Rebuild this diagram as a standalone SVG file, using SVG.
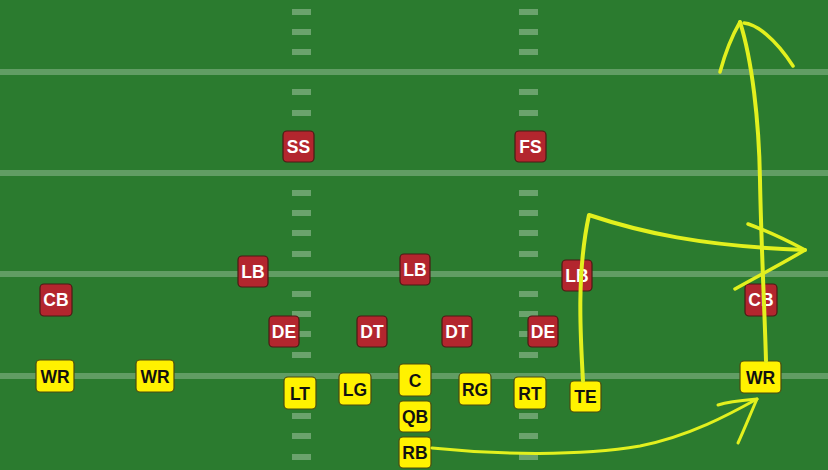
<svg xmlns="http://www.w3.org/2000/svg" width="828" height="470" viewBox="0 0 828 470">
<defs>
<style>
.yl{fill:#ffffff;fill-opacity:0.26}
.hm{fill:#ffffff;fill-opacity:0.3}
.def rect{fill:#b3262e;stroke:#4a1a14;stroke-width:1.2}
.def text{fill:#ffffff}
.off rect{fill:#fff200;stroke:#4a4a10;stroke-width:1.2}
.off text{fill:#111111}
text{font-family:"Liberation Sans",Arial,sans-serif;font-weight:bold;font-size:17.5px;text-anchor:middle;dominant-baseline:central}
.rt{fill:none;stroke:#e2f01e;stroke-linecap:round;stroke-linejoin:round}
</style>
</defs>
<rect x="0" y="0" width="828" height="470" fill="#2b7b2f"/>
<g id="field">
<rect class="yl" x="0" y="69" width="828" height="6"/>
<rect class="yl" x="0" y="170" width="828" height="6"/>
<rect class="yl" x="0" y="271" width="828" height="6"/>
<rect class="yl" x="0" y="373" width="828" height="6"/>
<g id="hash-left">
<rect class="hm" x="292" y="9" width="19" height="6"/>
<rect class="hm" x="292" y="29" width="19" height="6"/>
<rect class="hm" x="292" y="49" width="19" height="6"/>
<rect class="hm" x="292" y="89" width="19" height="6"/>
<rect class="hm" x="292" y="110" width="19" height="6"/>
<rect class="hm" x="292" y="190" width="19" height="6"/>
<rect class="hm" x="292" y="210" width="19" height="6"/>
<rect class="hm" x="292" y="230" width="19" height="6"/>
<rect class="hm" x="292" y="251" width="19" height="6"/>
<rect class="hm" x="292" y="291" width="19" height="6"/>
<rect class="hm" x="292" y="311" width="19" height="6"/>
<rect class="hm" x="292" y="331" width="19" height="6"/>
<rect class="hm" x="292" y="352" width="19" height="6"/>
<rect class="hm" x="292" y="413" width="19" height="6"/>
<rect class="hm" x="292" y="433" width="19" height="6"/>
<rect class="hm" x="292" y="454" width="19" height="6"/>
</g>
<g id="hash-right">
<rect class="hm" x="519" y="9" width="19" height="6"/>
<rect class="hm" x="519" y="29" width="19" height="6"/>
<rect class="hm" x="519" y="49" width="19" height="6"/>
<rect class="hm" x="519" y="89" width="19" height="6"/>
<rect class="hm" x="519" y="110" width="19" height="6"/>
<rect class="hm" x="519" y="190" width="19" height="6"/>
<rect class="hm" x="519" y="210" width="19" height="6"/>
<rect class="hm" x="519" y="230" width="19" height="6"/>
<rect class="hm" x="519" y="251" width="19" height="6"/>
<rect class="hm" x="519" y="291" width="19" height="6"/>
<rect class="hm" x="519" y="311" width="19" height="6"/>
<rect class="hm" x="519" y="331" width="19" height="6"/>
<rect class="hm" x="519" y="352" width="19" height="6"/>
<rect class="hm" x="519" y="413" width="19" height="6"/>
<rect class="hm" x="519" y="433" width="19" height="6"/>
<rect class="hm" x="519" y="454" width="19" height="6"/>
</g>
</g>
<g id="defense" class="def">
<g id="ss"><rect x="283" y="131" width="31" height="31" rx="4"/><text x="298.5" y="147">SS</text></g>
<g id="fs"><rect x="515" y="131" width="31" height="31" rx="4"/><text x="530.5" y="147">FS</text></g>
<g id="lb-left"><rect x="238" y="256" width="30" height="31" rx="4"/><text x="253" y="271.5">LB</text></g>
<g id="lb-mid"><rect x="400" y="254" width="30" height="31" rx="4"/><text x="415" y="270">LB</text></g>
<g id="lb-right"><rect x="562" y="260" width="30" height="31" rx="4"/><text x="577" y="275.5">LB</text></g>
<g id="cb-left"><rect x="40" y="284" width="32" height="32" rx="4"/><text x="56" y="300">CB</text></g>
<g id="cb-right"><rect x="745" y="284" width="32" height="32" rx="4"/><text x="761" y="300">CB</text></g>
<g id="de-left"><rect x="269" y="316" width="30" height="31" rx="4"/><text x="284" y="331.5">DE</text></g>
<g id="dt-left"><rect x="357" y="316" width="30" height="31" rx="4"/><text x="372" y="331.5">DT</text></g>
<g id="dt-right"><rect x="442" y="316" width="30" height="31" rx="4"/><text x="457" y="331.5">DT</text></g>
<g id="de-right"><rect x="528" y="316" width="30" height="31" rx="4"/><text x="543" y="331.5">DE</text></g>
</g>
<g id="offense" class="off">
<g id="wr-left"><rect x="36" y="360" width="38" height="32" rx="4"/><text x="55" y="376.5">WR</text></g>
<g id="wr-slot"><rect x="136" y="360" width="38" height="32" rx="4"/><text x="155" y="376.5">WR</text></g>
<g id="lt"><rect x="284" y="377" width="32" height="32" rx="4"/><text x="300" y="393.5">LT</text></g>
<g id="lg"><rect x="339" y="373" width="32" height="32" rx="4"/><text x="355" y="389.5">LG</text></g>
<g id="c"><rect x="399" y="364" width="32" height="32" rx="4"/><text x="415" y="380.5">C</text></g>
<g id="qb"><rect x="399" y="401" width="32" height="31" rx="4"/><text x="415" y="417">QB</text></g>
<g id="rb"><rect x="399" y="437" width="32" height="31" rx="4"/><text x="415" y="453">RB</text></g>
<g id="rg"><rect x="459" y="373" width="32" height="32" rx="4"/><text x="475" y="389.5">RG</text></g>
<g id="rt"><rect x="514" y="377" width="32" height="32" rx="4"/><text x="530" y="393.5">RT</text></g>
<g id="te"><rect x="570" y="381" width="31" height="31" rx="4"/><text x="585.5" y="397">TE</text></g>
<g id="wr-right"><rect x="740" y="361" width="41" height="32" rx="4"/><text x="760.5" y="377.5">WR</text></g>
</g>
<g id="connectors">
<g id="route-wr">
<path class="rt" stroke-width="4" d="M766 361 C765 320 761 240 760 180 C759 120 752 60 740 22"/>
<path class="rt" stroke-width="3.5" d="M720 72 C726 50 733 34 740 22"/>
<path class="rt" stroke-width="3.5" d="M744 23 C756 24 775 38 793 66"/>
</g>
<g id="route-te">
<path class="rt" stroke-width="4" d="M583 381 C580 330 577 270 589 215 C640 232 700 246 805 250"/>
<path class="rt" stroke-width="3.5" d="M748 224 C770 232 790 242 805 250 C785 262 760 275 735 289"/>
</g>
<g id="route-rb">
<path class="rt" stroke-width="3" d="M432 448 C500 455 580 456 640 446 C690 436 730 414 757 399"/>
<path class="rt" stroke-width="3" d="M718 405 C730 401 745 400 757 399 C750 415 744 430 738 443"/>
</g>
</g>
</svg>
